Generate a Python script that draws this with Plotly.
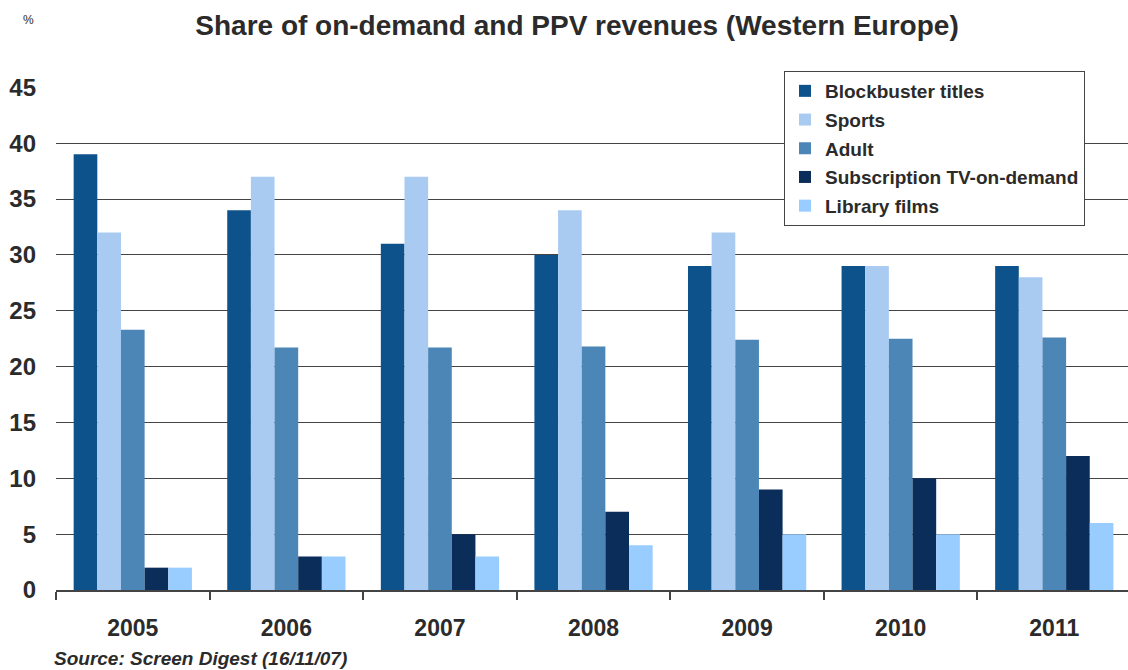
import plotly.graph_objects as go

years = ["2005", "2006", "2007", "2008", "2009", "2010", "2011"]
blockbuster = [39, 34, 31, 30, 29, 29, 29]
sports = [32, 37, 37, 34, 32, 29, 28]
adult = [23.3, 21.7, 21.7, 21.8, 22.4, 22.5, 22.6]
subscription = [2, 3, 5, 7, 9, 10, 12]
library = [2, 3, 3, 4, 5, 5, 6]

series = [
    ("Blockbuster titles", blockbuster, "#0E528C"),
    ("Sports", sports, "#A9CBF2"),
    ("Adult", adult, "#4C86B7"),
    ("Subscription TV-on-demand", subscription, "#0A2D5A"),
    ("Library films", library, "#99CCFF"),
]

W, H, L, R, T, B = 1128, 670, 56, 0, 87, 80
pw, ph = W - L - R, H - T - B


def px(x):
    return (x - L) / pw


def py(y):
    return (H - B - y) / ph


fig = go.Figure()
for i, (name, vals, col) in enumerate(series):
    fig.add_trace(go.Bar(x=years, y=vals, name=name, marker_color=col,
                         marker_line_width=0, legendgroup=str(i)))

txt = "#2b2b2b"
fig.update_layout(
    width=W, height=H,
    margin=dict(l=L, r=R, t=T, b=B, autoexpand=False),
    paper_bgcolor="white", plot_bgcolor="white",
    barmode="group", bargap=0.23, bargroupgap=0,
    font=dict(family="Liberation Sans, Arial, sans-serif", color=txt),
    title=dict(text="Share of on-demand and PPV revenues (Western Europe)",
               x=577 / W, xanchor="center", y=1 - 25 / H, yanchor="middle",
               font=dict(size=28, family="Liberation Sans, Arial", color=txt, weight="bold")),
    legend=dict(x=px(784), y=py(71), xanchor="left", yanchor="top", bgcolor="white",
                bordercolor="#444", borderwidth=1,
                font=dict(size=19, color=txt, weight="bold"), tracegroupgap=1,
                itemwidth=30),
    showlegend=True,
)

fig.update_yaxes(range=[0, 45.03], tickvals=list(range(0, 50, 5)), showgrid=True,
                 gridcolor="#444", gridwidth=1.3,
                 zeroline=False, showline=False, ticks="",
                 tickfont=dict(size=24, color=txt, weight="bold"), ticklabelstandoff=19)
fig.update_xaxes(range=[-0.5, 6.48], showline=True, linecolor="#444", linewidth=1.5,
                 ticks="outside", tickson="boundaries", ticklen=8, tickcolor="#444",
                 tickwidth=1.5, tickfont=dict(size=23, color=txt, weight="bold"),
                 ticklabelstandoff=17)

fig.add_annotation(text="%", xref="paper", yref="paper", x=px(28), y=py(20),
                   xanchor="center", yanchor="middle", showarrow=False,
                   font=dict(size=12, color=txt))
fig.add_annotation(text="<b><i>Source: Screen Digest (16/11/07)</i></b>",
                   xref="paper", yref="paper", x=px(52), y=py(658),
                   xanchor="left", yanchor="middle", showarrow=False,
                   font=dict(size=19, color=txt))

fig.write_html("out.html", config={"displayModeBar": False},
               post_script="document.body.style.margin='0';")
